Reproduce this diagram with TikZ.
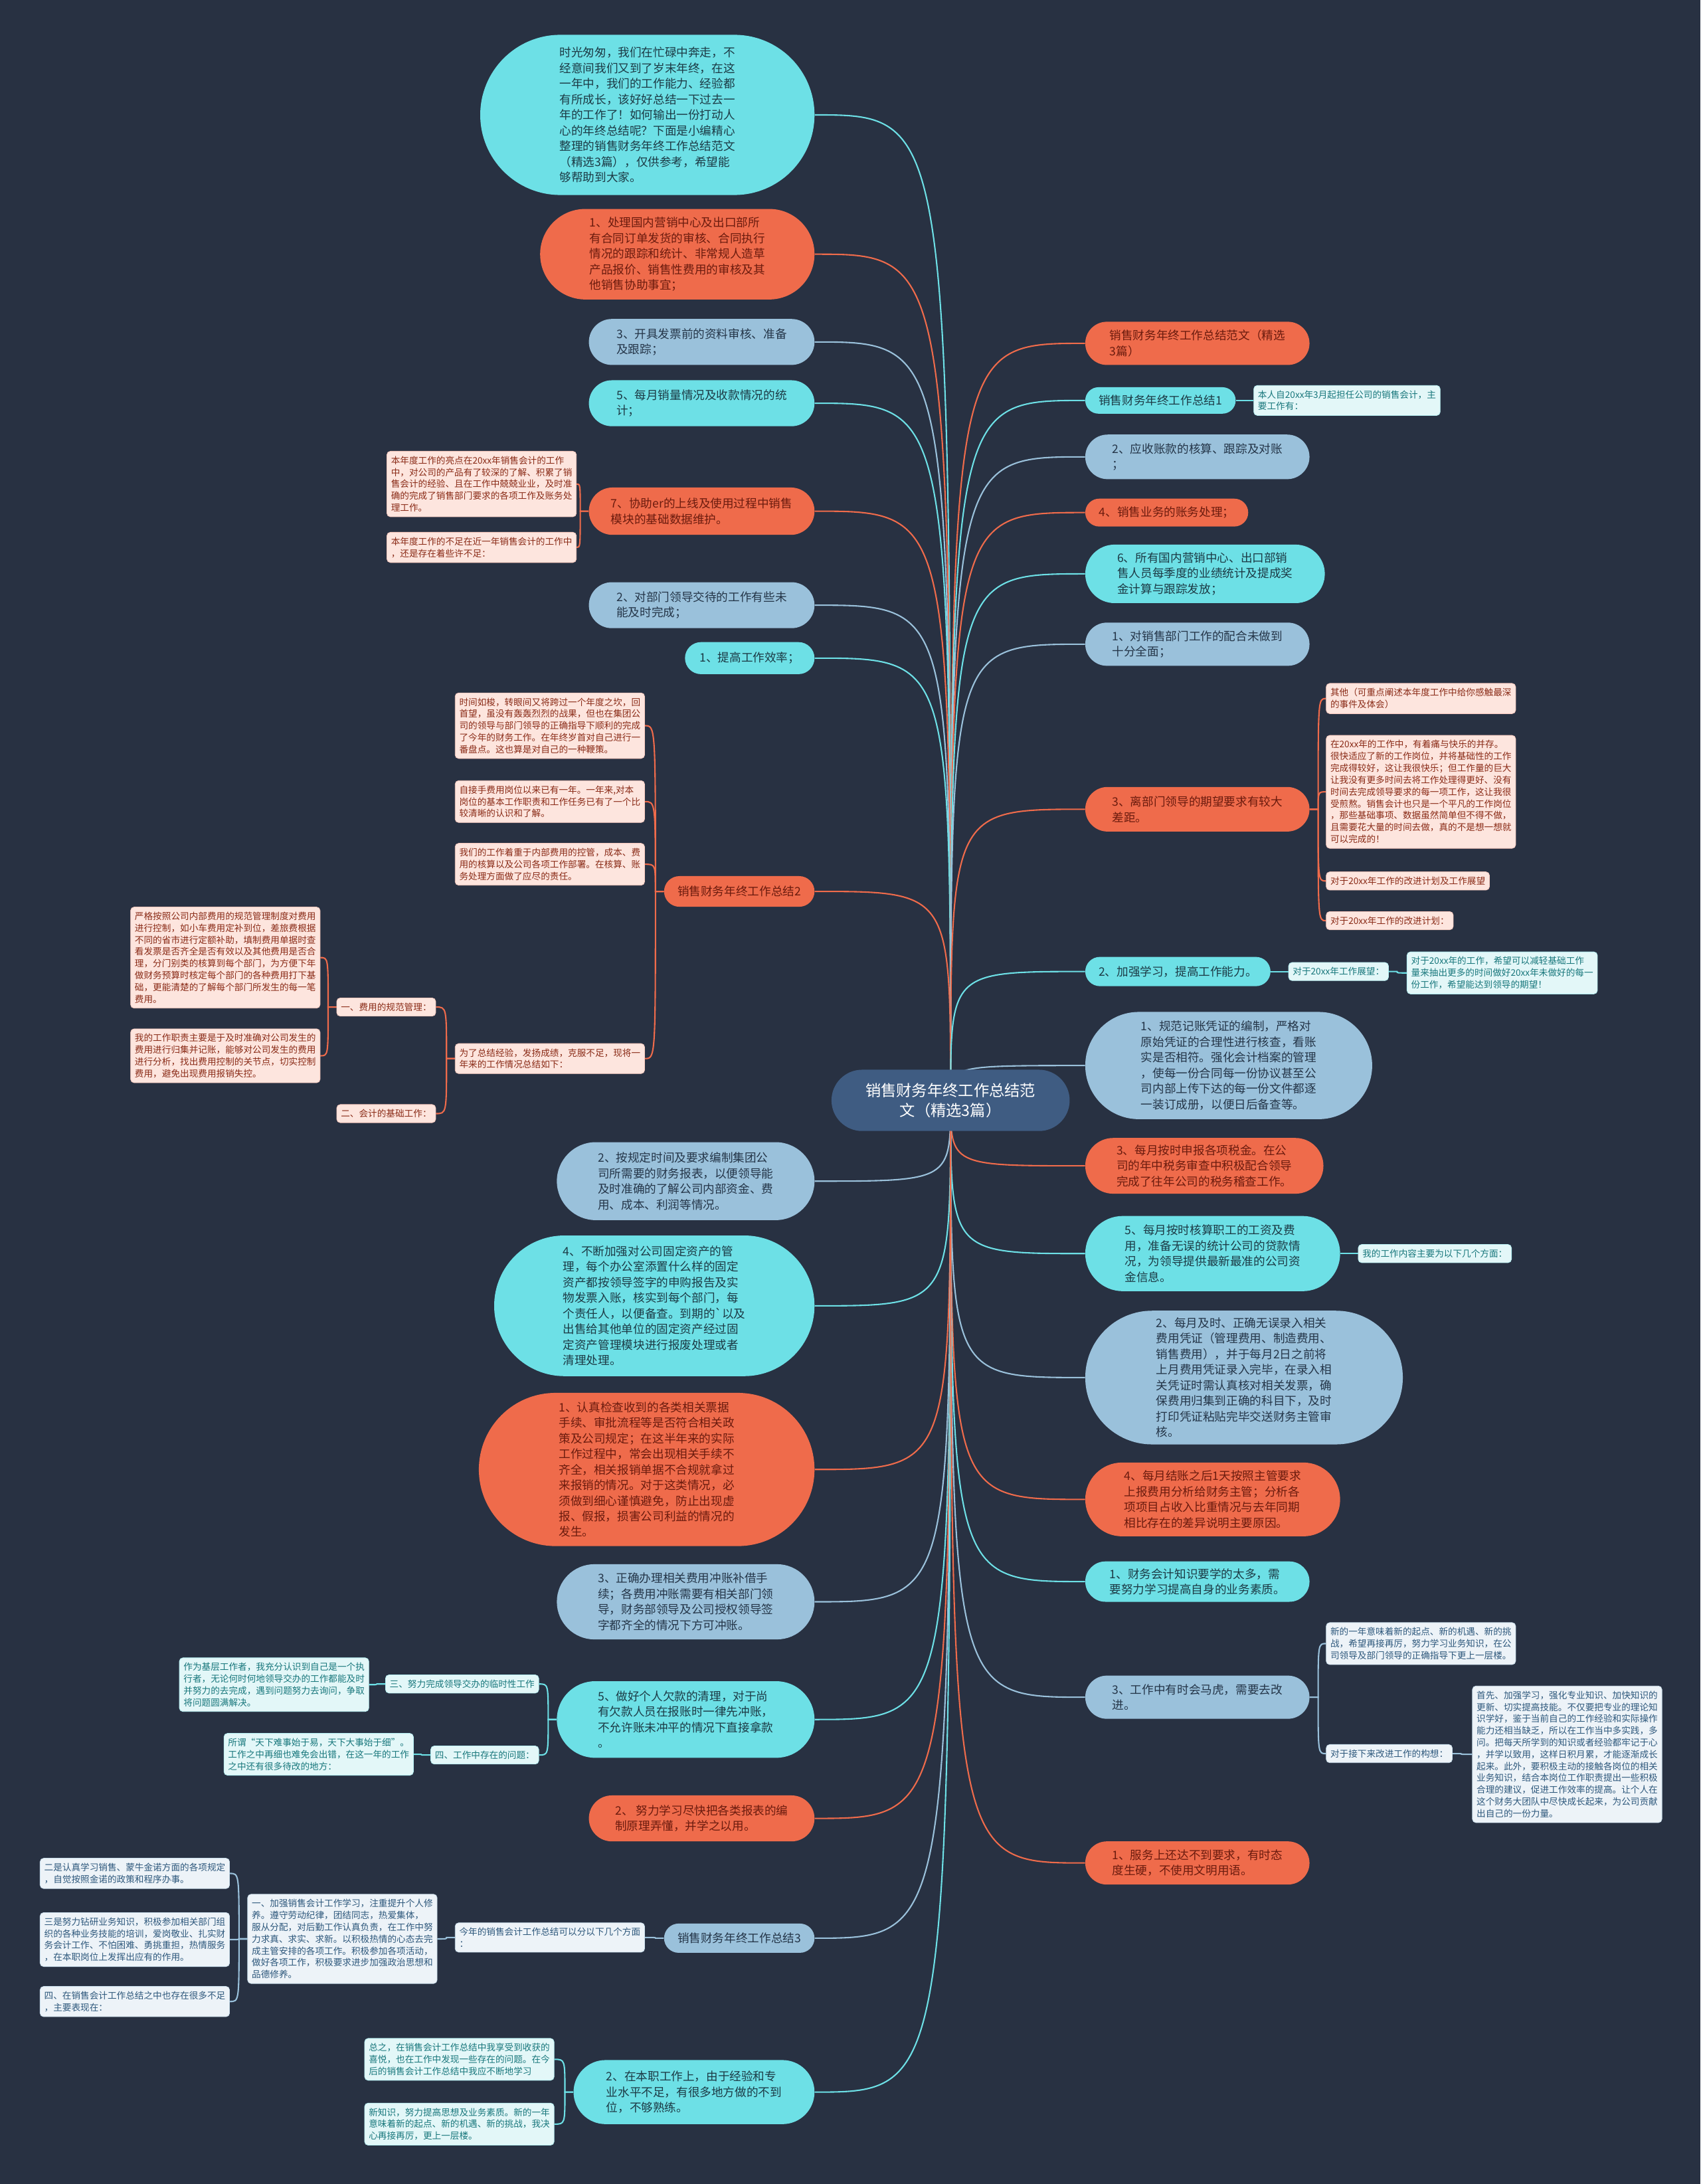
\documentclass[tikz,border=0pt]{standalone}
\usepackage{fontspec}
\setmainfont{Noto Sans CJK SC}
\usetikzlibrary{backgrounds}

\definecolor{bgdark}{HTML}{283142}
\definecolor{rootblue}{HTML}{3F5C82}
\definecolor{orng}{HTML}{EF6B4B}
\definecolor{cyn}{HTML}{6DE0E6}
\definecolor{lblu}{HTML}{9AC1DB}
\definecolor{otxt}{HTML}{6B1B0E}
\definecolor{ctxt}{HTML}{1C3A45}
\definecolor{ltxt}{HTML}{243548}
\definecolor{pnk}{HTML}{FDE5DE}
\definecolor{ptxt}{HTML}{8A2B17}
\definecolor{wcy}{HTML}{E3F7F8}
\definecolor{wtxt}{HTML}{18777C}
\definecolor{gry}{HTML}{EDF3F8}
\definecolor{gtxt}{HTML}{2E587C}

\tikzset{
  bub/.style n args={3}{minimum width=#1, minimum height=#2, rounded corners=#3,
    inner sep=0pt, align=left, font=\fontsize{8.4}{11.2}\selectfont},
  obub/.style={fill=orng, text=otxt},
  cbub/.style={fill=cyn, text=ctxt},
  lbub/.style={fill=lblu, text=ltxt},
  sbox/.style={rounded corners=2.5pt, inner xsep=3pt, inner ysep=3.5pt, align=left,
    font=\fontsize{6.5}{8.5}\selectfont},
  pbox/.style={sbox, fill=pnk, draw=orng!35, text=ptxt},
  wbox/.style={sbox, fill=wcy, draw=cyn!50, text=wtxt},
  gbox/.style={sbox, fill=gry, draw=lblu!50, text=gtxt},
  link/.style={line width=1pt},
}

\begin{document}
\begin{tikzpicture}[x=1pt, y=-1pt]
  \useasboundingbox (0,0) rectangle (1221,1568);
  \begin{pgfonlayer}{background}
    \fill[bgdark] (0,0) rectangle (1221,1568);
  \end{pgfonlayer}

  % centre
  \node[rounded corners=22, minimum width=171, minimum height=44, inner sep=0pt, fill=rootblue,
    text=white, align=center, font=\fontsize{11.1}{14.3}\selectfont] (root) at (682.5,790)
    {销售财务年终工作总结范\\文（精选3篇）};

  % left side
  \node[bub={240}{115}{57.5}, cbub, anchor=east] (l1) at (585,82.5)
    {时光匆匆，我们在忙碌中奔走，不\\经意间我们又到了岁末年终，在这\\一年中，我们的工作能力、经验都\\有所成长，该好好总结一下过去一\\年的工作了！如何输出一份打动人\\心的年终总结呢？下面是小编精心\\整理的销售财务年终工作总结范文\\（精选3篇），仅供参考，希望能\\够帮助到大家。};
  \node[bub={197}{65}{32.5}, obub, anchor=east] (l2) at (585,182.5)
    {1、处理国内营销中心及出口部所\\有合同订单发货的审核、合同执行\\情况的跟踪和统计、非常规人造草\\产品报价、销售性费用的审核及其\\他销售协助事宜；};
  \node[bub={162}{33}{16.5}, lbub, anchor=east] (l3) at (585,245.5) {3、开具发票前的资料审核、准备\\及跟踪；};
  \node[bub={162}{33}{16.5}, cbub, anchor=east] (l4) at (585,289.5) {5、每月销量情况及收款情况的统\\计；};
  \node[bub={162}{34}{17}, obub, anchor=east] (l5) at (585,367) {7、协助er的上线及使用过程中销售\\模块的基础数据维护。};
  \node[pbox, anchor=east] (l5a) at (414,347.5)
    {本年度工作的亮点在20xx年销售会计的工作\\中，对公司的产品有了较深的了解、积累了销\\售会计的经验、且在工作中兢兢业业，及时准\\确的完成了销售部门要求的各项工作及账务处\\理工作。};
  \node[pbox, anchor=east] (l5b) at (414,393) {本年度工作的不足在近一年销售会计的工作中\\，还是存在着些许不足：};
  \node[bub={162}{33}{16.5}, lbub, anchor=east] (l6) at (585,434.5) {2、对部门领导交待的工作有些未\\能及时完成；};
  \node[bub={93}{23}{11.5}, cbub, anchor=east] (l7) at (585,472.5) {1、提高工作效率；};

  \node[bub={108}{22}{11}, obub, anchor=east] (l8) at (585,640) {销售财务年终工作总结2};
  \node[pbox, anchor=east] (l8a) at (463,521)
    {时间如梭，转眼间又将跨过一个年度之坎，回\\首望，虽没有轰轰烈烈的战果，但也在集团公\\司的领导与部门领导的正确指导下顺利的完成\\了今年的财务工作。在年终岁首对自己进行一\\番盘点。这也算是对自己的一种鞭策。};
  \node[pbox, anchor=east] (l8b) at (463,575.5)
    {自接手费用岗位以来已有一年。一年来,对本\\岗位的基本工作职责和工作任务已有了一个比\\较清晰的认识和了解。};
  \node[pbox, anchor=east] (l8c) at (463,620.5)
    {我们的工作着重于内部费用的控管，成本、费\\用的核算以及公司各项工作部署。在核算、账\\务处理方面做了应尽的责任。};
  \node[pbox, anchor=east] (l8d) at (463,760) {为了总结经验，发扬成绩，克服不足，现将一\\年来的工作情况总结如下：};
  \node[pbox, anchor=east] (l8d1) at (313,723) {一、费用的规范管理：};
  \node[pbox, anchor=east] (l8d1a) at (230,687.5)
    {严格按照公司内部费用的规范管理制度对费用\\进行控制，如小车费用定补到位，差旅费根据\\不同的省市进行定额补助，填制费用单据时查\\看发票是否齐全是否有效以及其他费用是否合\\理，分门别类的核算到每个部门，为方便下年\\做财务预算时核定每个部门的各种费用打下基\\础，更能清楚的了解每个部门所发生的每一笔\\费用。};
  \node[pbox, anchor=east] (l8d1b) at (230,758)
    {我的工作职责主要是于及时准确对公司发生的\\费用进行归集并记账，能够对公司发生的费用\\进行分析，找出费用控制的关节点，切实控制\\费用，避免出现费用报销失控。};
  \node[pbox, anchor=east] (l8d2) at (313,799.5) {二、会计的基础工作：};

  \node[bub={185}{56}{28}, lbub, anchor=east] (l9) at (585,848)
    {2、按规定时间及要求编制集团公\\司所需要的财务报表，以便领导能\\及时准确的了解公司内部资金、费\\用、成本、利润等情况。};
  \node[bub={230}{101}{50.5}, cbub, anchor=east] (l10) at (585,937.5)
    {4、不断加强对公司固定资产的管\\理，每个办公室添置什么样的固定\\资产都按领导签字的申购报告及实\\物发票入账，核实到每个部门，每\\个责任人，以便备查。到期的\textasciigrave 以及\\出售给其他单位的固定资产经过固\\定资产管理模块进行报废处理或者\\清理处理。};
  \node[bub={241}{110}{55}, obub, anchor=east] (l11) at (585,1055)
    {1、认真检查收到的各类相关票据\\手续、审批流程等是否符合相关政\\策及公司规定；在这半年来的实际\\工作过程中，常会出现相关手续不\\齐全，相关报销单据不合规就拿过\\来报销的情况。对于这类情况，必\\须做到细心谨慎避免，防止出现虚\\报、假报，损害公司利益的情况的\\发生。};
  \node[bub={185}{54}{27}, lbub, anchor=east] (l12) at (585,1150)
    {3、正确办理相关费用冲账补借手\\续；各费用冲账需要有相关部门领\\导，财务部领导及公司授权领导签\\字都齐全的情况下方可冲账。};

  \node[bub={185}{55}{27.5}, cbub, anchor=east] (l13) at (585,1234.5)
    {5、做好个人欠款的清理，对于尚\\有欠款人员在报账时一律先冲账，\\不允许账未冲平的情况下直接拿款\\。};
  \node[wbox, anchor=east] (l13a) at (387,1209) {三、努力完成领导交办的临时性工作};
  \node[wbox, anchor=east] (l13a1) at (265,1209.5)
    {作为基层工作者，我充分认识到自己是一个执\\行者，无论何时何地领导交办的工作都能及时\\并努力的去完成，遇到问题努力去询问，争取\\将问题圆满解决。};
  \node[wbox, anchor=east] (l13b) at (387,1260) {四、工作中存在的问题：};
  \node[wbox, anchor=east] (l13b1) at (297,1259.5)
    {所谓“天下难事始于易，天下大事始于细”。\\工作之中再细也难免会出错，在这一年的工作\\之中还有很多待改的地方：};

  \node[bub={162}{33}{16.5}, obub, anchor=east] (l14) at (585,1305.5) {2、 努力学习尽快把各类报表的编\\制原理弄懂，并学之以用。};

  \node[bub={108}{21}{10.5}, lbub, anchor=east] (l15) at (585,1391.5) {销售财务年终工作总结3};
  \node[gbox, anchor=east] (l15a) at (463,1391) {今年的销售会计工作总结可以分以下几个方面\\：};
  \node[gbox, anchor=east] (l15a1) at (314,1392)
    {一、加强销售会计工作学习，注重提升个人修\\养。遵守劳动纪律，团结同志，热爱集体，\\服从分配，对后勤工作认真负责，在工作中努\\力求真、求实、求新。以积极热情的心态去完\\成主管安排的各项工作。积极参加各项活动，\\做好各项工作，积极要求进步加强政治思想和\\品德修养。};
  \node[gbox, anchor=east] (l15a1a) at (165,1345) {二是认真学习销售、蒙牛金诺方面的各项规定\\，自觉按照金诺的政策和程序办事。};
  \node[gbox, anchor=east] (l15a1b) at (165,1392.5)
    {三是努力钻研业务知识，积极参加相关部门组\\织的各种业务技能的培训，爱岗敬业、扎实财\\务会计工作、不怕困难、勇挑重担，热情服务\\，在本职岗位上发挥出应有的作用。};
  \node[gbox, anchor=east] (l15a1c) at (165,1437) {四、在销售会计工作总结之中也存在很多不足\\，主要表现在：};

  \node[bub={173}{46}{23}, cbub, anchor=east] (l16) at (585,1502)
    {2、在本职工作上，由于经验和专\\业水平不足，有很多地方做的不到\\位，不够熟练。};
  \node[wbox, anchor=east] (l16a) at (398,1478.5)
    {总之，在销售会计工作总结中我享受到收获的\\喜悦，也在工作中发现一些存在的问题。在今\\后的销售会计工作总结中我应不断地学习};
  \node[wbox, anchor=east] (l16b) at (398,1525)
    {新知识，努力提高思想及业务素质。新的一年\\意味着新的起点、新的机遇、新的挑战，我决\\心再接再厉，更上一层楼。};

  % right side
  \node[bub={161}{31}{15.5}, obub, anchor=west] (r1) at (779,246.5) {销售财务年终工作总结范文（精选\\3篇）};
  \node[bub={108}{19}{9.5}, cbub, anchor=west] (r2) at (779,287.5) {销售财务年终工作总结1};
  \node[wbox, anchor=west] (r2a) at (900,287.5) {本人自20xx年3月起担任公司的销售会计，主\\要工作有：};
  \node[bub={161}{32}{16}, lbub, anchor=west] (r3) at (779,328) {2、应收账款的核算、跟踪及对账\\；};
  \node[bub={117}{20}{10}, obub, anchor=west] (r4) at (779,368) {4、销售业务的账务处理；};
  \node[bub={172}{42}{21}, cbub, anchor=west] (r5) at (779,412)
    {6、所有国内营销中心、出口部销\\售人员每季度的业绩统计及提成奖\\金计算与跟踪发放；};
  \node[bub={161}{31}{15.5}, lbub, anchor=west] (r6) at (779,462.5) {1、对销售部门工作的配合未做到\\十分全面；};

  \node[bub={161}{32}{16}, obub, anchor=west] (r7) at (779,581) {3、离部门领导的期望要求有较大\\差距。};
  \node[pbox, anchor=west] (r7a) at (952,501.5) {其他（可重点阐述本年度工作中给你感触最深\\的事件及体会）};
  \node[pbox, anchor=west] (r7b) at (952,568.5)
    {在20xx年的工作中，有着痛与快乐的并存。\\很快适应了新的工作岗位，并将基础性的工作\\完成得较好，这让我很快乐；但工作量的巨大\\让我没有更多时间去将工作处理得更好、没有\\时间去完成领导要求的每一项工作，这让我很\\受煎熬。销售会计也只是一个平凡的工作岗位\\，那些基础事项、数据虽然简单但不得不做，\\且需要花大量的时间去做，真的不是想一想就\\可以完成的！};
  \node[pbox, anchor=west] (r7c) at (952,632.5) {对于20xx年工作的改进计划及工作展望};
  \node[pbox, anchor=west] (r7d) at (952,661) {对于20xx年工作的改进计划：};

  \node[bub={133}{21}{10.5}, cbub, anchor=west] (r8) at (779,697.5) {2、加强学习，提高工作能力。};
  \node[wbox, anchor=west] (r8a) at (925,697.5) {对于20xx年工作展望：};
  \node[wbox, anchor=west] (r8a1) at (1010,698.5)
    {对于20xx年的工作，希望可以减轻基础工作\\量来抽出更多的时间做好20xx年未做好的每一\\份工作，希望能达到领导的期望！};

  \node[bub={206}{77}{38.5}, lbub, anchor=west] (r9) at (779,765)
    {1、规范记账凭证的编制，严格对\\原始凭证的合理性进行核查，看账\\实是否相符。强化会计档案的管理\\，使每一份合同每一份协议甚至公\\司内部上传下达的每一份文件都逐\\一装订成册，以便日后备查等。};
  \node[bub={171}{40}{20}, obub, anchor=west] (r10) at (779,837)
    {3、每月按时申报各项税金。在公\\司的年中税务审查中积极配合领导\\完成了往年公司的税务稽查工作。};
  \node[bub={183}{54}{27}, cbub, anchor=west] (r11) at (779,900)
    {5、每月按时核算职工的工资及费\\用，准备无误的统计公司的贷款情\\况，为领导提供最新最准的公司资\\金信息。};
  \node[wbox, anchor=west] (r11a) at (975,900) {我的工作内容主要为以下几个方面：};
  \node[bub={228}{96}{48}, lbub, anchor=west] (r12) at (779,989)
    {2、每月及时、正确无误录入相关\\费用凭证（管理费用、制造费用、\\销售费用），并于每月2日之前将\\上月费用凭证录入完毕，在录入相\\关凭证时需认真核对相关发票，确\\保费用归集到正确的科目下，及时\\打印凭证粘贴完毕交送财务主管审\\核。};
  \node[bub={183}{53}{26.5}, obub, anchor=west] (r13) at (779,1076.5)
    {4、每月结账之后1天按照主管要求\\上报费用分析给财务主管；分析各\\项项目占收入比重情况与去年同期\\相比存在的差异说明主要原因。};
  \node[bub={161}{29}{14.5}, cbub, anchor=west] (r14) at (779,1135.5) {1、财务会计知识要学的太多，需\\要努力学习提高自身的业务素质。};

  \node[bub={161}{31}{15.5}, lbub, anchor=west] (r15) at (779,1218.5) {3、工作中有时会马虎，需要去改\\进。};
  \node[gbox, anchor=west] (r15a) at (952,1180)
    {新的一年意味着新的起点、新的机遇、新的挑\\战，希望再接再厉，努力学习业务知识，在公\\司领导及部门领导的正确指导下更上一层楼。};
  \node[gbox, anchor=west] (r15b) at (952,1259) {对于接下来改进工作的构想：};
  \node[gbox, anchor=west] (r15b1) at (1057,1259.5)
    {首先、加强学习，强化专业知识、加快知识的\\更新、切实提高技能。不仅要把专业的理论知\\识学好，鉴于当前自己的工作经验和实际操作\\能力还相当缺乏，所以在工作当中多实践，多\\问。把每天所学到的知识或者经验都牢记于心\\，并学以致用，这样日积月累，才能逐渐成长\\起来。此外，要积极主动的接触各岗位的相关\\业务知识，结合本岗位工作职责提出一些积极\\合理的建议，促进工作效率的提高。让个人在\\这个财务大团队中尽快成长起来，为公司贡献\\出自己的一份力量。};
  \node[bub={161}{31}{15.5}, obub, anchor=west] (r16) at (779,1337.5) {1、服务上还达不到要求，有时态\\度生硬，不使用文明用语。};

  % connectors
  \begin{pgfonlayer}{background}
    \foreach \n/\col in {l1/cyn,l2/orng,l3/lblu,l4/cyn,l5/orng,l6/lblu,l7/cyn,l8/orng,
        l9/lblu,l10/cyn,l11/orng,l12/lblu,l13/cyn,l14/orng,l15/lblu,l16/cyn}
      \draw[link, draw=\col] (root.center) .. controls (root.center |- \n.east) .. (\n.east);
    \foreach \n/\col in {r1/orng,r2/cyn,r3/lblu,r4/orng,r5/cyn,r6/lblu,r7/orng,r8/cyn,
        r9/lblu,r10/orng,r11/cyn,r12/lblu,r13/orng,r14/cyn,r15/lblu,r16/orng}
      \draw[link, draw=\col] (root.center) .. controls (root.center |- \n.west) .. (\n.west);

    \foreach \p in {l5,l8,l8d,l8d1,l13,l13a,l13b,l15,l15a,l15a1,l16}
      \coordinate (j\p) at ([xshift=-6pt]\p.west);
    \foreach \p in {r2,r7,r8,r8a,r11,r15,r15b}
      \coordinate (j\p) at ([xshift=6pt]\p.east);

    \foreach \p/\k/\col in {l5/l5a/orng,l5/l5b/orng,l8/l8a/orng,l8/l8b/orng,l8/l8c/orng,
        l8/l8d/orng,l8d/l8d1/orng,l8d/l8d2/orng,l8d1/l8d1a/orng,l8d1/l8d1b/orng,
        l13/l13a/cyn,l13/l13b/cyn,l13a/l13a1/cyn,l13b/l13b1/cyn,l15/l15a/lblu,
        l15a/l15a1/lblu,l15a1/l15a1a/lblu,l15a1/l15a1b/lblu,l15a1/l15a1c/lblu,
        l16/l16a/cyn,l16/l16b/cyn}
      \draw[link, draw=\col] (\p.west) -- (j\p) .. controls (j\p |- \k.east) .. (\k.east);
    \foreach \p/\k/\col in {r2/r2a/cyn,r7/r7a/orng,r7/r7b/orng,r7/r7c/orng,r7/r7d/orng,
        r8/r8a/cyn,r8a/r8a1/cyn,r11/r11a/cyn,r15/r15a/lblu,r15/r15b/lblu,r15b/r15b1/lblu}
      \draw[link, draw=\col] (\p.east) -- (j\p) .. controls (j\p |- \k.west) .. (\k.west);
  \end{pgfonlayer}
\end{tikzpicture}
\end{document}
